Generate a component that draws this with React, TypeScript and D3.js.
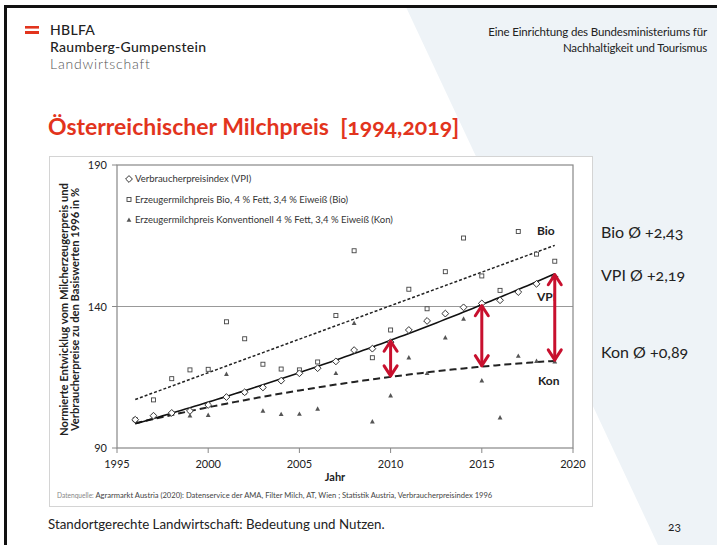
import React from "react";
import * as d3 from "d3";

const years = d3.range(1996, 2020);
const vpi = [100, 101.4, 102.4, 103.1, 105.2, 108, 109.7, 111.4, 113.8, 116.4, 118.2, 120.6, 124.6, 125.1, 127.4, 131.7, 134.9, 137.5, 139.7, 141.1, 142.2, 145.1, 148, 150.4];
const bio = [100, 107, 114.5, 117.6, 117.8, 134.6, 128.6, 119.6, 117.9, 117.6, 120.4, 136.8, 159.7, 121.9, 131.7, 146.1, 139.2, 152.3, 164.2, 150.8, 145.7, 166.5, 158.5, 156];
const kon = [100, 101, 102.4, 101.4, 101.6, 116.1, 109.5, 103.1, 101.9, 102, 103.8, 116.4, 134.1, 99.3, 108.5, 121.9, 116.4, 129, 135.6, 113.8, 100.7, 122.5, 120.7, 120.5];
const xTicks = [1995, 2000, 2005, 2010, 2015, 2020];
const yTicks = [90, 140, 190];
const arrowYears = [2010, 2015, 2019];
const legendItems = [
  "Verbraucherpreisindex (VPI)",
  "Erzeugermilchpreis Bio, 4 % Fett, 3,4 % Eiweiß (Bio)",
  "Erzeugermilchpreis Konventionell 4 % Fett, 3,4 % Eiweiß (Kon)",
];
const sideStats = [
  { label: "Bio", value: "+2,43" },
  { label: "VPI", value: "+2,19" },
  { label: "Kon", value: "+0,89" },
];

// regression helpers
function linFit(xs: number[], ys: number[]) {
  const mx = d3.mean(xs)!, my = d3.mean(ys)!;
  let sxy = 0, sxx = 0;
  xs.forEach((x, i) => { sxy += (x - mx) * (ys[i] - my); sxx += (x - mx) ** 2; });
  const b = sxy / sxx;
  const a = my - b * mx;
  return (x: number) => a + b * x;
}
function expFit(xs: number[], ys: number[]) {
  const f = linFit(xs, ys.map(Math.log));
  return (x: number) => Math.exp(f(x));
}
function polyFit2(xs: number[], ys: number[]) {
  const n = xs.length;
  const S = (p: number) => d3.sum(xs, (x) => x ** p);
  const T = (p: number) => d3.sum(xs, (x, i) => ys[i] * x ** p);
  const M = [
    [n, S(1), S(2), T(0)],
    [S(1), S(2), S(3), T(1)],
    [S(2), S(3), S(4), T(2)],
  ];
  for (let i = 0; i < 3; i++) {
    for (let k = i + 1; k < 3; k++) {
      const f = M[k][i] / M[i][i];
      for (let j = i; j < 4; j++) M[k][j] -= f * M[i][j];
    }
  }
  const c = M[2][3] / M[2][2];
  const b = (M[1][3] - M[1][2] * c) / M[1][1];
  const a = (M[0][3] - M[0][1] * b - M[0][2] * c) / M[0][0];
  return (x: number) => a + b * x + c * x * x;
}

const ts = years.map((y) => y - 1996);
const vpiTrend = expFit(ts, vpi);
const bioTrend = linFit(ts, bio);
const konTrend = polyFit2(ts, kon);

export default function App() {
  const W = 717, H = 545;
  const x = d3.scaleLinear().domain([1995, 2020]).range([117, 573]);
  const y = d3.scaleLinear().domain([90, 190]).range([448, 165]);
  const fine = d3.range(1996, 2019.001, 0.25);
  const line = (f: (t: number) => number) =>
    d3.line<number>().x((d) => x(d)).y((d) => y(f(d - 1996)))(fine) || "";

  const red = "#c8102e";
  const font = "Lato, 'Open Sans', sans-serif";
  const onum = { fontVariantNumeric: "oldstyle-nums" } as React.CSSProperties;

  const arrow = (yr: number) => {
    const ax = x(yr);
    const y1 = y(vpiTrend(yr - 1996));
    const y2 = y(konTrend(yr - 1996));
    const hw = 6.5, hh = 11;
    return (
      <g key={yr} stroke={red} strokeWidth={3} fill="none" strokeLinecap="round" strokeLinejoin="round">
        <line x1={ax} x2={ax} y1={y1 + 1} y2={y2 - 1} />
        <polyline points={`${ax - hw},${y1 + hh} ${ax},${y1 + 1} ${ax + hw},${y1 + hh}`} />
        <polyline points={`${ax - hw},${y2 - hh} ${ax},${y2 - 1} ${ax + hw},${y2 - hh}`} />
      </g>
    );
  };

  const diamond = (cx: number, cy: number, k: number) => (
    <path key={"d" + k} d={`M${cx},${cy - 3.4}L${cx + 3.4},${cy}L${cx},${cy + 3.4}L${cx - 3.4},${cy}Z`} fill="white" stroke="#333" strokeWidth={1} />
  );
  const square = (cx: number, cy: number, k: number) => (
    <rect key={"s" + k} x={cx - 2} y={cy - 2} width={4} height={4} fill="white" stroke="#444" strokeWidth={0.9} />
  );
  const tri = (cx: number, cy: number, k: number) => (
    <path key={"t" + k} d={`M${cx},${cy - 2.6}L${cx + 2.4},${cy + 1.8}L${cx - 2.4},${cy + 1.8}Z`} fill="#555" />
  );

  return (
    <svg width={W} height={H} style={{ position: "absolute", left: 0, top: 0 }} fontFamily={font}>
      <rect width={W} height={H} fill="white" />
      <polygon points="406,7 717,7 717,545 658,545" fill="#eef3f7" />
      <rect x={4} y={5} width={W} height={3} fill="#111" />
      <rect x={4} y={5} width={3} height={H} fill="#111" />

      {/* logo */}
      <rect x={25} y={26} width={14} height={2.6} fill="#e2341d" />
      <rect x={25} y={31} width={14} height={3} fill="#e2341d" />
      <text x={50} y={35} fontSize={14} fill="#222" fontWeight={500} letterSpacing={0.3}>HBLFA</text>
      <text x={50} y={52} fontSize={14} fill="#222" fontWeight={500} letterSpacing={0.3}>Raumberg-Gumpenstein</text>
      <text x={50} y={69} fontSize={14} fill="#555" fontWeight={300} letterSpacing={0.8}>Landwirtschaft</text>

      <text x={707} y={36} fontSize={11.5} fill="#222" textAnchor="end" letterSpacing={-0.15}>Eine Einrichtung des Bundesministeriums für</text>
      <text x={707} y={52} fontSize={11.5} fill="#222" textAnchor="end" letterSpacing={-0.15}>Nachhaltigkeit und Tourismus</text>

      <text x={48} y={135} fontSize={23} fontWeight={700} fill="#e2341d" style={{ ...onum, whiteSpace: "pre" }} xmlSpace="preserve">Österreichischer Milchpreis  [1994,2019]</text>

      {/* chart box */}
      <rect x={49.5} y={156.5} width={543} height={350} fill="white" stroke="#d4d4d4" />

      <line x1={x(1995)} x2={x(2020)} y1={y(140)} y2={y(140)} stroke="#999" strokeWidth={1} />
      <rect x={x(1995)} y={y(190)} width={x(2020) - x(1995)} height={y(90) - y(190)} fill="none" stroke="#888" strokeWidth={1.2} />
      {xTicks.map((t) => (
        <g key={t}>
          <line x1={x(t)} x2={x(t)} y1={y(90)} y2={y(90) + 5} stroke="#888" />
          <text x={x(t)} y={y(90) + 20} fontSize={11} textAnchor="middle" fill="#222">{t}</text>
        </g>
      ))}
      {yTicks.map((t) => (
        <g key={t}>
          <line x1={x(1995) - 5} x2={x(1995)} y1={y(t)} y2={y(t)} stroke="#888" />
          <text x={x(1995) - 10} y={y(t) + 4} fontSize={11} textAnchor="end" fill="#222">{t}</text>
        </g>
      ))}
      <text x={335} y={481} fontSize={11} fontWeight={700} textAnchor="middle" fill="#222">Jahr</text>
      <g transform={`translate(68,${(y(90) + y(190)) / 2 + 3}) rotate(-90)`}>
        <text x={0} y={0} fontSize={11.2} fontWeight={700} textAnchor="middle" fill="#222">Normierte Entwicklug vom Milcherzeugerpreis und</text>
        <text x={0} y={10.5} fontSize={11.2} fontWeight={700} textAnchor="middle" fill="#222">Verbraucherpreise zu den Basiswerten 1996 in %</text>
      </g>

      {/* legend */}
      {legendItems.map((l, i) => {
        const ly = 179 + i * 20.5;
        return (
          <g key={l}>
            {i === 0 ? diamond(129, ly, 100) : i === 1 ? square(129, ly, 100) : tri(129, ly, 100)}
            <text x={135} y={ly + 3.2} fontSize={9.5} fill="#333">{l}</text>
          </g>
        );
      })}

      {/* trend lines */}
      <path d={line(bioTrend)} fill="none" stroke="#222" strokeWidth={1.5} strokeDasharray="3,2" />
      <path d={line(konTrend)} fill="none" stroke="#222" strokeWidth={2} strokeDasharray="7,4" />
      <path d={line(vpiTrend)} fill="none" stroke="#111" strokeWidth={1.6} />

      {/* points */}
      {years.map((yr, i) => tri(x(yr), y(kon[i]), i))}
      {years.map((yr, i) => square(x(yr), y(bio[i]), i))}
      {years.map((yr, i) => diamond(x(yr), y(vpi[i]), i))}

      <text x={537} y={235} fontSize={12} fontWeight={700} fill="#222">Bio</text>
      <text x={537} y={301} fontSize={12} fontWeight={700} fill="#222">VPI</text>
      <text x={538} y={385} fontSize={12} fontWeight={700} fill="#222">Kon</text>

      {arrowYears.map(arrow)}

      <text x={57} y={498} fontSize={7.6} fill="#444">
        <tspan fill="#888" fontSize={6.6}>Datenquelle: </tspan>Agrarmarkt Austria (2020): Datenservice der AMA, Filter Milch, AT, Wien ; Statistik Austria, Verbraucherpreisindex 1996
      </text>

      {sideStats.map((s, i) => (
        <text key={s.label} x={601} y={[238, 281, 358][i]} fontSize={16} fill="#222" style={onum}>
          {s.label} Ø {s.value}
        </text>
      ))}

      <text x={48} y={529} fontSize={13.3} fill="#222">Standortgerechte Landwirtschaft: Bedeutung und Nutzen.</text>
      <text x={668} y={531} fontSize={12} fill="#222" style={onum}>23</text>
    </svg>
  );
}
